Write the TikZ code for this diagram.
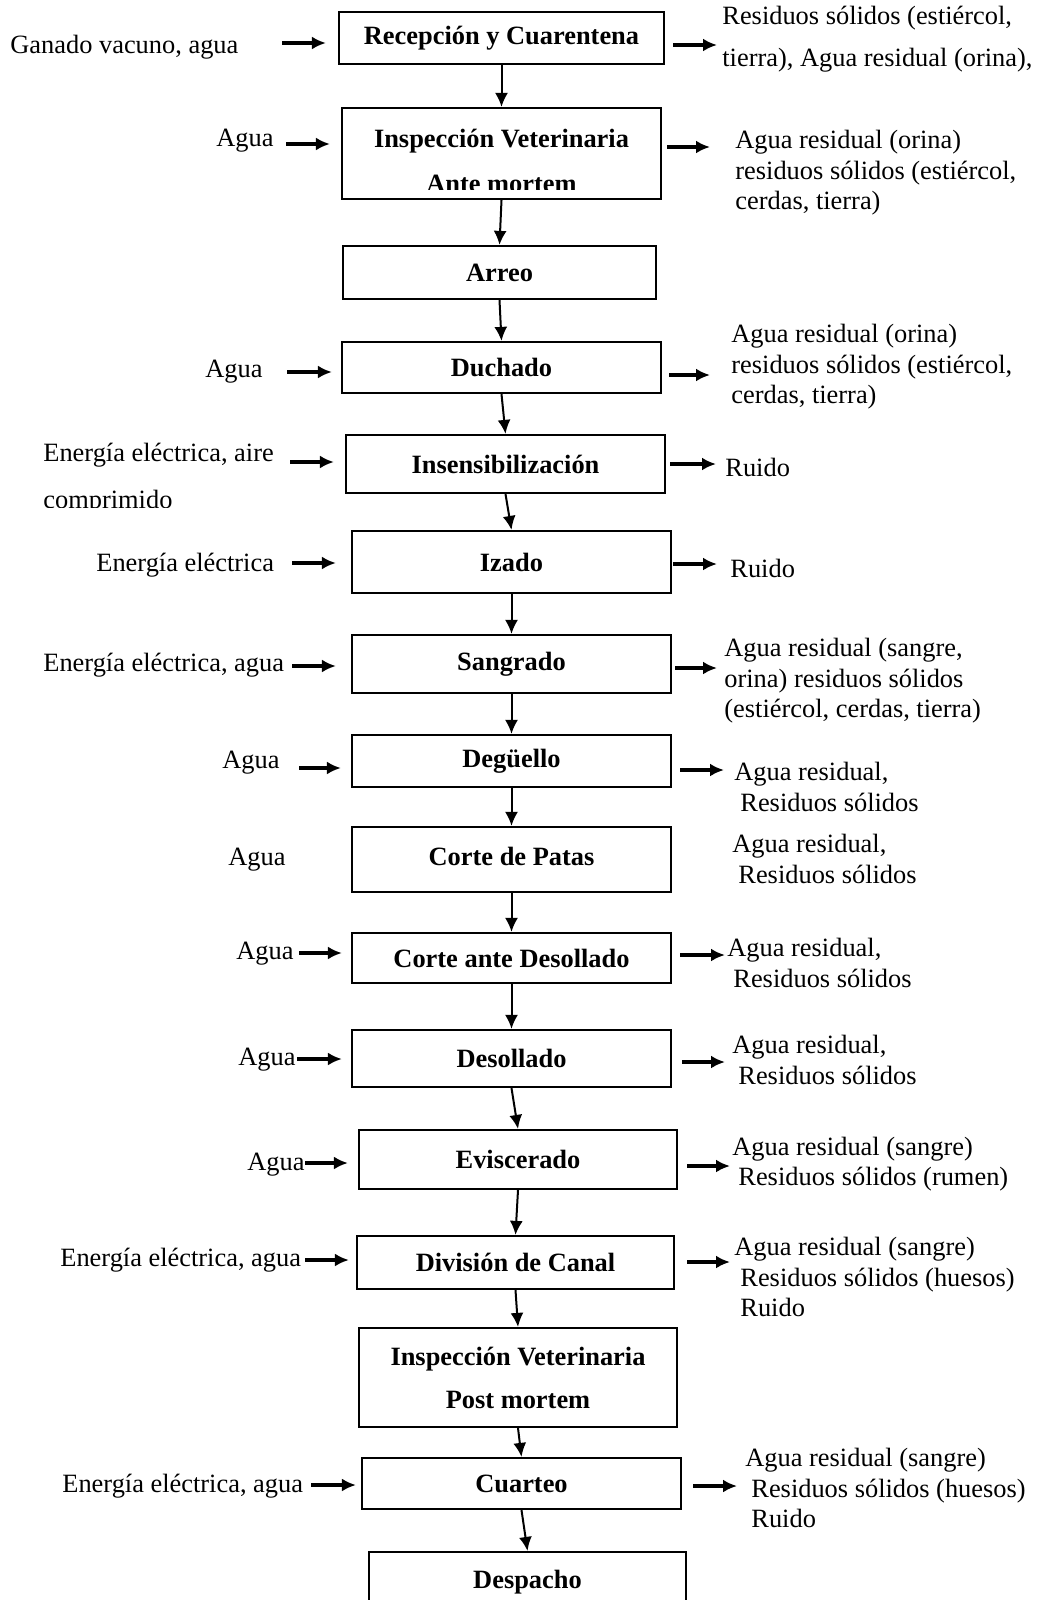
\documentclass[tikz,border=0pt]{standalone}
\usepackage{fontspec}
\setmainfont{Liberation Serif}
\usetikzlibrary{arrows.meta}

\begin{document}
\begin{tikzpicture}[>={Latex[length=7pt,width=6.5pt]},x=0.5pt,y=-0.5pt,
  every node/.style={font=\fontsize{13.2}{15.25}\selectfont,inner sep=0pt},
  box/.style={draw,line width=1.1pt,font=\fontsize{13.2}{15.25}\selectfont\bfseries,minimum width=159.5pt},
  side/.style={->,line width=1.6pt},
  down/.style={->,line width=1pt}]
\useasboundingbox (0,0) rectangle (1041,1600);
% etapas
\node[box,minimum width=162.5pt,minimum height=26pt] (b1) at (501.5,38) {Recepción y Cuarentena};
\node[box,minimum height=45.5pt] (b2) at (501.5,153.5) {};
\node[box,minimum width=156.5pt,minimum height=26.5pt] (b3) at (499.5,272.5) {Arreo};
\node[box,minimum height=25.5pt] (b4) at (501.5,367.5) {Duchado};
\node[box,minimum height=29pt] (b5) at (505.5,464) {Insensibilización};
\node[box,minimum height=31pt] (b6) at (511.5,562) {Izado};
\node[box,minimum height=29pt] (b7) at (511.5,664) {Sangrado};
\node[box,minimum height=26pt] (b8) at (511.5,761) {Degüello};
\node[box,minimum height=32.5pt] (b9) at (511.5,859.5) {\raisebox{3pt}{Corte de Patas}};
\node[box,minimum height=25pt] (b10) at (511.5,958) {Corte ante Desollado};
\node[box,minimum height=28.5pt] (b11) at (511.5,1058.5) {Desollado};
\node[box,minimum width=159pt,minimum height=29.5pt] (b12) at (518,1159.5) {Eviscerado};
\node[box,minimum width=158.5pt,minimum height=26.5pt] (b13) at (515.5,1262.5) {División de Canal};
\node[box,minimum width=159pt,minimum height=49.5pt,align=center] (b14) at (518,1377.5) {Inspección Veterinaria\\[6.25pt]Post mortem};
\node[box,minimum height=25.5pt] (b15) at (521.5,1483.5) {Cuarteo};
\node[box,minimum width=158.5pt,minimum height=30pt] (b16) at (527.5,1582) {Despacho};
\begin{scope}
\clip (b2.north west) rectangle (661,189);
\node[font=\fontsize{13.2}{15.25}\selectfont\bfseries,align=center] (b2t) at (501.5,160.5) {Inspección Veterinaria\\[7.25pt]Ante mortem};
\end{scope}

\draw[down] (b1.south) -- (b2.north);
\draw[down] (b2.south) -- (b3.north);
\draw[down] (b3.south) -- (b4.north);
\draw[down] (b4.south) -- (b5.north);
\draw[down] (b5.south) -- (b6.north);
\draw[down] (b6.south) -- (b7.north);
\draw[down] (b7.south) -- (b8.north);
\draw[down] (b8.south) -- (b9.north);
\draw[down] (b9.south) -- (b10.north);
\draw[down] (b10.south) -- (b11.north);
\draw[down] (b11.south) -- (b12.north);
\draw[down] (b12.south) -- (b13.north);
\draw[down] (b13.south) -- (b14.north);
\draw[down] (b14.south) -- (b15.north);
\draw[down] (b15.south) -- (b16.north);

% entradas
\node[anchor=west] (in1) at (10,47) {Ganado vacuno, agua};
\node[anchor=west] (in2) at (216,141) {Agua};
\node[anchor=west] (in4) at (205,372) {Agua};
\begin{scope}
\clip (0,430) rectangle (340,507);
\node[anchor=west,align=left] (in5) at (43,478.5) {Energía eléctrica, aire\\[8.25pt]comprimido};
\end{scope}
\node[anchor=west] (in6) at (96,565) {Energía eléctrica};
\node[anchor=west] (in7) at (43,665) {Energía eléctrica, agua};
\node[anchor=west] (in8) at (222,763) {Agua};
\node[anchor=west] (in9) at (228,860) {Agua};
\node[anchor=west] (in10) at (236,954) {Agua};
\node[anchor=west] (in11) at (238,1060) {Agua};
\node[anchor=west] (in12) at (247,1165) {Agua};
\node[anchor=west] (in13) at (60,1260) {Energía eléctrica, agua};
\node[anchor=west] (in15) at (62,1486) {Energía eléctrica, agua};

\coordinate (i1) at (282,43);
\coordinate (i2) at (286,144);
\coordinate (i4) at (287,372);
\coordinate (i5) at (290,462);
\coordinate (i6) at (292,563);
\coordinate (i7) at (292,666);
\coordinate (i8) at (299,768);
\coordinate (i10) at (299,953);
\coordinate (i11) at (297,1059);
\coordinate (i12) at (305,1163);
\coordinate (i13) at (305,1260);
\coordinate (i15) at (311,1485);
\draw[side,shorten >=6pt] (i1) -- (i1 -| b1.west);
\draw[side,shorten >=5.5pt] (i2) -- (i2 -| b2.west);
\draw[side,shorten >=4.5pt] (i4) -- (i4 -| b4.west);
\draw[side,shorten >=5.5pt] (i5) -- (i5 -| b5.west);
\draw[side,shorten >=7.5pt] (i6) -- (i6 -| b6.west);
\draw[side,shorten >=7.5pt] (i7) -- (i7 -| b7.west);
\draw[side,shorten >=5pt] (i8) -- (i8 -| b8.west);
\draw[side,shorten >=4.5pt] (i10) -- (i10 -| b10.west);
\draw[side,shorten >=4.5pt] (i11) -- (i11 -| b11.west);
\draw[side,shorten >=5pt] (i12) -- (i12 -| b12.west);
\draw[side,shorten >=3.5pt] (i13) -- (i13 -| b13.west);
\draw[side,shorten >=2.5pt] (i15) -- (i15 -| b15.west);

% salidas
\node[anchor=west,align=left] (out1) at (722,39) {Residuos sólidos (estiércol,\\[5.75pt]tierra), Agua residual (orina),};
\node[anchor=west,align=left] (out2) at (735,173) {Agua residual (orina)\\residuos sólidos (estiércol,\\cerdas, tierra)};
\node[anchor=west,align=left] (out4) at (731,367) {Agua residual (orina)\\residuos sólidos (estiércol,\\cerdas, tierra)};
\node[anchor=west] (out5) at (725,467) {Ruido};
\node[anchor=west] (out6) at (730,568) {Ruido};
\node[anchor=west,align=left] (out7) at (724,681) {Agua residual (sangre,\\orina) residuos sólidos\\(estiércol, cerdas, tierra)};
\node[anchor=west,align=left] (out8) at (734,787) {Agua residual,\\\hspace*{3pt}Residuos sólidos};
\node[anchor=west,align=left] (out9) at (732,859) {Agua residual,\\\hspace*{3pt}Residuos sólidos};
\node[anchor=west,align=left] (out10) at (727,963) {Agua residual,\\\hspace*{3pt}Residuos sólidos};
\node[anchor=west,align=left] (out11) at (732,1060) {Agua residual,\\\hspace*{3pt}Residuos sólidos};
\node[anchor=west,align=left] (out12) at (732,1164) {Agua residual (sangre)\\\hspace*{3pt}Residuos sólidos (rumen)};
\node[anchor=west,align=left] (out13) at (734,1277) {Agua residual (sangre)\\\hspace*{3pt}Residuos sólidos (huesos)\\\hspace*{3pt}Ruido};
\node[anchor=west,align=left] (out15) at (745,1488) {Agua residual (sangre)\\\hspace*{3pt}Residuos sólidos (huesos)\\\hspace*{3pt}Ruido};

\coordinate (r1) at (717,45);
\coordinate (r2) at (710,147);
\coordinate (r4) at (710,375);
\coordinate (r5) at (716,464);
\coordinate (r6) at (717,564);
\coordinate (r7) at (717,668);
\coordinate (r8) at (724,770);
\coordinate (r10) at (725,955);
\coordinate (r11) at (725,1062);
\coordinate (r12) at (730,1166);
\coordinate (r13) at (730,1262);
\coordinate (r15) at (737,1486);
\draw[side,shorten <=4pt] (r1 -| b1.east) -- (r1);
\draw[side,shorten <=2.5pt] (r2 -| b2.east) -- (r2);
\draw[side,shorten <=3.5pt] (r4 -| b4.east) -- (r4);
\draw[side,shorten <=2pt] (r5 -| b5.east) -- (r5);
\draw[side,shorten <=0.5pt] (r6 -| b6.east) -- (r6);
\draw[side,shorten <=1.5pt] (r7 -| b7.east) -- (r7);
\draw[side,shorten <=4pt] (r8 -| b8.east) -- (r8);
\draw[side,shorten <=4pt] (r10 -| b10.east) -- (r10);
\draw[side,shorten <=5pt] (r11 -| b11.east) -- (r11);
\draw[side,shorten <=4.5pt] (r12 -| b12.east) -- (r12);
\draw[side,shorten <=6pt] (r13 -| b13.east) -- (r13);
\draw[side,shorten <=5.5pt] (r15 -| b15.east) -- (r15);
\end{tikzpicture}
\end{document}
